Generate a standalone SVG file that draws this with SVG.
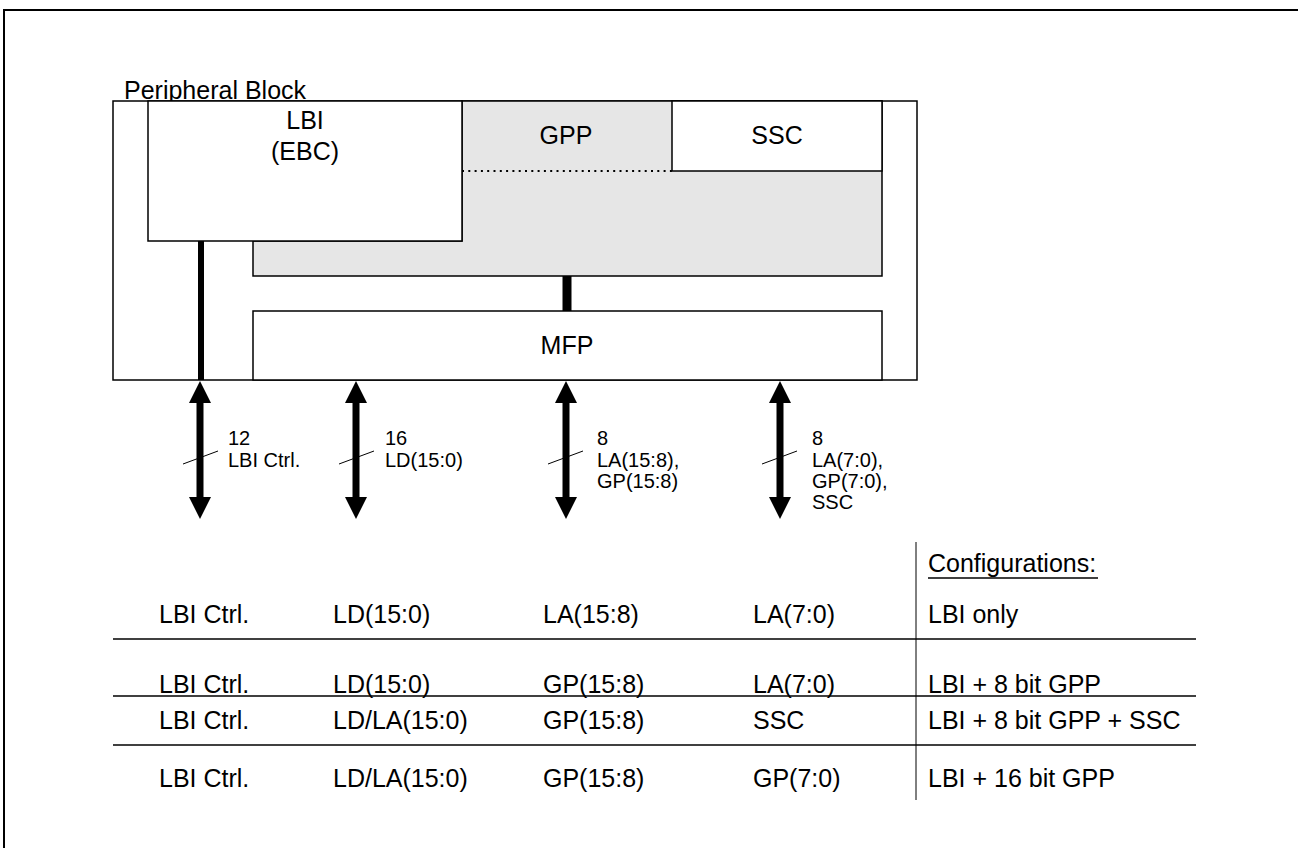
<svg xmlns="http://www.w3.org/2000/svg" width="1298" height="848" viewBox="0 0 1298 848">
  <defs>
    <style>
      text { font-family: "Liberation Sans", Arial, sans-serif; fill: #000; }
      .big { font-size: 25px; }
      .lbl { font-size: 20px; }
      .box { fill: #fff; stroke: #000; stroke-width: 1.5; }
      .gray { fill: #e6e6e6; stroke: #000; stroke-width: 1.5; }
      .bus { stroke: #000; stroke-width: 7; fill: none; }
      .tick { stroke: #000; stroke-width: 1; }
      .rule { stroke: #000; stroke-width: 1.5; }
      .vrule { stroke: #000; stroke-width: 1; }
    </style>
    <marker id="head" markerUnits="userSpaceOnUse" markerWidth="22" markerHeight="22" refX="0" refY="11" orient="auto-start-reverse" viewBox="0 0 22 22">
      <path d="M0,0 L22,11 L0,22 Z" fill="#000"/>
    </marker>
  </defs>

  <rect id="frame" x="4" y="10" width="1300" height="850" fill="#fff" stroke="#000" stroke-width="2"/>

  <g id="peripheral-block">
    <rect class="box" x="113" y="101" width="804" height="279"/>
    <text class="big" x="124" y="99">Peripheral Block</text>
  </g>

  <g id="gpp">
    <polygon class="gray" points="462,101 882,101 882,276 253,276 253,241 462,241"/>
    <line x1="462" y1="171" x2="672" y2="171" stroke="#000" stroke-width="1.8" stroke-dasharray="2 4.3"/>
    <text class="big" x="566" y="144" text-anchor="middle">GPP</text>
  </g>

  <g id="lbi">
    <rect class="box" x="148" y="101" width="314" height="140"/>
    <text class="big" x="305" y="129" text-anchor="middle">LBI</text>
    <text class="big" x="305" y="160" text-anchor="middle">(EBC)</text>
  </g>

  <g id="ssc">
    <rect class="box" x="672" y="101" width="210" height="70"/>
    <text class="big" x="777" y="144" text-anchor="middle">SSC</text>
  </g>

  <g id="mfp">
    <rect class="box" x="253" y="311" width="629" height="69"/>
    <text class="big" x="567" y="354" text-anchor="middle">MFP</text>
  </g>

  <g id="connectors">
    <line x1="201" y1="241" x2="201" y2="380" stroke="#000" stroke-width="6"/>
    <line x1="567" y1="276" x2="567" y2="311" stroke="#000" stroke-width="9"/>
    <line class="bus" x1="200" y1="403" x2="200" y2="497" marker-start="url(#head)" marker-end="url(#head)"/>
    <line class="bus" x1="356" y1="403" x2="356" y2="497" marker-start="url(#head)" marker-end="url(#head)"/>
    <line class="bus" x1="566" y1="403" x2="566" y2="497" marker-start="url(#head)" marker-end="url(#head)"/>
    <line class="bus" x1="780" y1="403" x2="780" y2="497" marker-start="url(#head)" marker-end="url(#head)"/>
    <line class="tick" x1="183" y1="464" x2="218" y2="451"/>
    <line class="tick" x1="339" y1="464" x2="374" y2="451"/>
    <line class="tick" x1="548" y1="464" x2="583" y2="451"/>
    <line class="tick" x1="762" y1="464" x2="797" y2="451"/>
  </g>

  <g id="bus-labels">
    <text class="lbl" x="228" y="445">12</text>
    <text class="lbl" x="228" y="467">LBI Ctrl.</text>
    <text class="lbl" x="385" y="445">16</text>
    <text class="lbl" x="385" y="467">LD(15:0)</text>
    <text class="lbl" x="597" y="445">8</text>
    <text class="lbl" x="597" y="467">LA(15:8),</text>
    <text class="lbl" x="597" y="488">GP(15:8)</text>
    <text class="lbl" x="812" y="445">8</text>
    <text class="lbl" x="812" y="467">LA(7:0),</text>
    <text class="lbl" x="812" y="488">GP(7:0),</text>
    <text class="lbl" x="812" y="509">SSC</text>
  </g>

  <g id="table">
    <line class="vrule" x1="916" y1="542" x2="916" y2="800"/>
    <line class="rule" x1="113" y1="639" x2="1196" y2="639"/>
    <line class="rule" x1="113" y1="696" x2="1196" y2="696"/>
    <line class="rule" x1="113" y1="745" x2="1196" y2="745"/>
    <text class="big" x="928" y="572">Configurations:</text>
    <line x1="928" y1="578" x2="1098" y2="578" stroke="#000" stroke-width="1.5"/>

    <text class="big" x="159" y="623">LBI Ctrl.</text>
    <text class="big" x="333" y="623">LD(15:0)</text>
    <text class="big" x="543" y="623">LA(15:8)</text>
    <text class="big" x="753" y="623">LA(7:0)</text>
    <text class="big" x="928" y="623">LBI only</text>

    <text class="big" x="159" y="693">LBI Ctrl.</text>
    <text class="big" x="333" y="693">LD(15:0)</text>
    <text class="big" x="543" y="693">GP(15:8)</text>
    <text class="big" x="753" y="693">LA(7:0)</text>
    <text class="big" x="928" y="693">LBI + 8 bit GPP</text>

    <text class="big" x="159" y="729">LBI Ctrl.</text>
    <text class="big" x="333" y="729">LD/LA(15:0)</text>
    <text class="big" x="543" y="729">GP(15:8)</text>
    <text class="big" x="753" y="729">SSC</text>
    <text class="big" x="928" y="729">LBI + 8 bit GPP + SSC</text>

    <text class="big" x="159" y="787">LBI Ctrl.</text>
    <text class="big" x="333" y="787">LD/LA(15:0)</text>
    <text class="big" x="543" y="787">GP(15:8)</text>
    <text class="big" x="753" y="787">GP(7:0)</text>
    <text class="big" x="928" y="787">LBI + 16 bit GPP</text>
  </g>
</svg>
